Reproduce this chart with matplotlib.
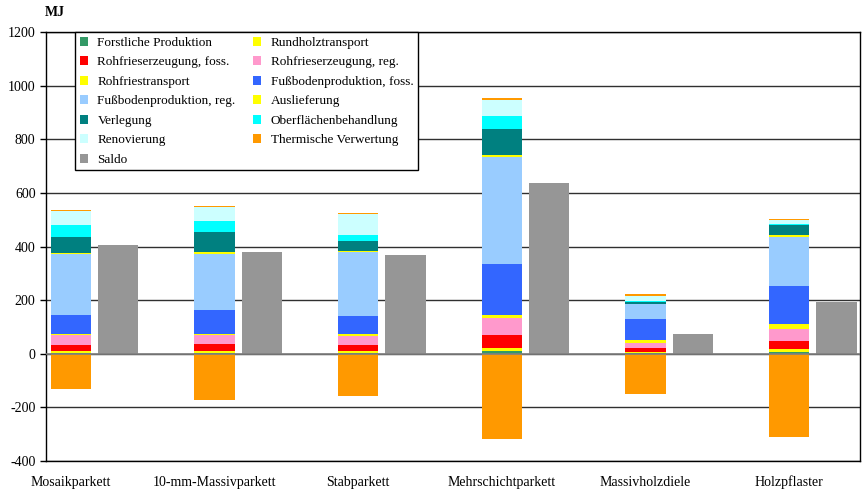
import matplotlib.pyplot as plt
import numpy as np

plt.rcParams['font.family'] = ['Liberation Serif', 'DejaVu Serif']
plt.rcParams['axes.unicode_minus'] = False

# Kategorien
categories = ['Mosaikparkett', '10-mm-Massivparkett', 'Stabparkett',
              'Mehrschichtparkett', 'Massivholzdiele', 'Holzpflaster']

# Energiebeitraege der Lebenswegabschnitte in MJ (von unten nach oben gestapelt)
forstliche_produktion = [3, 3, 3, 11, 3, 7]
rundholztransport = [7, 7, 7, 11, 3, 10]
rohfrieserzeugung_foss = [22, 26, 22, 48, 15, 31]
rohfrieserzeugung_reg = [37, 33, 33, 64, 19, 45]
rohfriestransport = [5, 5, 7, 10, 12, 19]
fussbodenproduktion_foss = [69, 88, 67, 190, 77, 142]
fussbodenproduktion_reg = [228, 211, 241, 401, 56, 183]
auslieferung = [5, 5, 5, 7, 1, 5]
verlegung = [59, 77, 36, 97, 7, 40]
oberflaechenbehandlung = [44, 41, 22, 48, 2, 3]
renovierung = [54, 53, 78, 59, 22, 12]
thermisch_pos = [3, 3, 4, 7, 4, 7]
thermisch_neg = [-133, -173, -158, -319, -149, -309]
saldo = [407, 381, 370, 635, 75, 194]

layers = [
    ('Forstliche Produktion', forstliche_produktion, '#339966'),
    ('Rundholztransport', rundholztransport, '#FFFF00'),
    ('Rohfrieserzeugung, foss.', rohfrieserzeugung_foss, '#FF0000'),
    ('Rohfrieserzeugung, reg.', rohfrieserzeugung_reg, '#FF99CC'),
    ('Rohfriestransport', rohfriestransport, '#FFFF00'),
    ('Fußbodenproduktion, foss.', fussbodenproduktion_foss, '#3366FF'),
    ('Fußbodenproduktion, reg.', fussbodenproduktion_reg, '#99CCFF'),
    ('Auslieferung', auslieferung, '#FFFF00'),
    ('Verlegung', verlegung, '#008080'),
    ('Oberflächenbehandlung', oberflaechenbehandlung, '#00FFFF'),
    ('Renovierung', renovierung, '#CCFFFF'),
    ('Thermische Verwertung', thermisch_pos, '#FF9900'),
]

fig = plt.figure(figsize=(8.64, 4.91), dpi=100)
ax = fig.add_axes([0.0532, 0.0611, 0.9422, 0.8737])

x = np.arange(len(categories))
w = 0.28
off = 0.33

handles = {}
bottom = np.zeros(len(categories))
for name, vals, col in layers:
    vals = np.array(vals, dtype=float)
    b = ax.bar(x, vals, w, bottom=bottom, color=col, zorder=3)
    handles[name] = b
    bottom += vals
ax.bar(x, thermisch_neg, w, color='#FF9900', zorder=3)
handles['Saldo'] = ax.bar(x + off, saldo, w, color='#969696', zorder=3)

ax.set_xlim(-0.174, 5.494)
ax.set_ylim(-400, 1200)
ax.set_yticks(np.arange(-400, 1201, 200))
ax.yaxis.grid(True, color='#303030', lw=1)
ax.set_axisbelow(True)
ax.axhline(0, color='#808080', lw=1.2, zorder=4)
ax.tick_params(axis='y', labelsize=10, length=4, width=1)
ax.set_xticks([])
for s in ax.spines.values():
    s.set_color('black')
    s.set_linewidth(1)

# Kategoriebeschriftungen unter den gestapelten Balken
for xi, cat in zip(x, categories):
    ax.text(xi, -0.049, cat, transform=ax.get_xaxis_transform(),
            ha='center', va='center', fontsize=10)

fig.text(0.052, 0.975, 'MJ', fontsize=10, fontweight='bold', ha='left', va='center')

# Legende: Spaltenweise Reihenfolge
order = ['Forstliche Produktion', 'Rohfrieserzeugung, foss.', 'Rohfriestransport',
         'Fußbodenproduktion, reg.', 'Verlegung', 'Renovierung', 'Saldo',
         'Rundholztransport', 'Rohfrieserzeugung, reg.', 'Fußbodenproduktion, foss.',
         'Auslieferung', 'Oberflächenbehandlung', 'Thermische Verwertung']
leg = ax.legend([handles[n] for n in order], order, ncol=2, loc='upper left',
                bbox_to_anchor=(0.0356, 1.0), fontsize=9.5, frameon=True,
                fancybox=False, edgecolor='black', framealpha=1,
                handlelength=0.65, handleheight=0.7, handletextpad=0.7,
                labelspacing=0.55, columnspacing=1.3, borderpad=0.35,
                borderaxespad=0)
leg.get_frame().set_linewidth(1)
leg.set_zorder(5)

fig.savefig('out.png', dpi=100)
